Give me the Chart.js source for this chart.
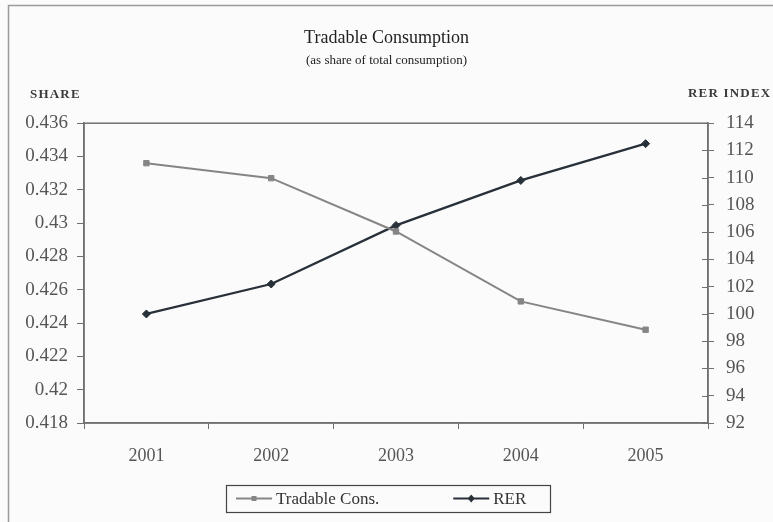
<!DOCTYPE html>
<html>
<head>
<meta charset="utf-8">
<script src="https://cdn.jsdelivr.net/npm/chart.js@4.4.1/dist/chart.umd.min.js"></script>
<style>
  html, body { margin: 0; padding: 0; background: #fbfbfb; }
  #wrap { width: 773px; height: 522px; position: relative; }
</style>
</head>
<body>
<div id="wrap"><canvas id="chart" width="773" height="522"></canvas></div>
<script>
// Data
const years = ["2001", "2002", "2003", "2004", "2005"];
const tradableShare = [0.4336, 0.4327, 0.4295, 0.4253, 0.4236];
const rerIndex = [100.0, 102.2, 106.5, 109.8, 112.5];
const shareTicks = [0.418, 0.42, 0.422, 0.424, 0.426, 0.428, 0.43, 0.432, 0.434, 0.436];
const rerTicks = [92, 94, 96, 98, 100, 102, 104, 106, 108, 110, 112, 114];
const seriesNames = ["Tradable Cons.", "RER"];

const SERIF = "'Liberation Serif', 'DejaVu Serif', serif";
const GREY_LINE = "#858585";
const DARK_LINE = "#283039";
const AXIS = "#707070";
const TEXT = "#555555";

function drawMarker(ctx, style, x, y, color) {
  ctx.fillStyle = color;
  if (style === "rect") {
    ctx.fillRect(x - 2.5, y - 2.5, 5, 5);
  } else {
    ctx.beginPath();
    ctx.moveTo(x, y - 4); ctx.lineTo(x + 3.5, y); ctx.lineTo(x, y + 4); ctx.lineTo(x - 3.5, y);
    ctx.closePath(); ctx.fill();
  }
}

// frame, axis captions, plot box, legend
const decorations = {
  id: "decorations",
  beforeDraw(chart) {
    const { ctx, width, height } = chart;
    ctx.save();
    ctx.fillStyle = "#fbfbfb";
    ctx.fillRect(0, 0, width, height);
    ctx.strokeStyle = "#9a9a9a";
    ctx.lineWidth = 1.5;
    ctx.beginPath();
    ctx.moveTo(8.5, height);
    ctx.lineTo(8.5, 5.5);
    ctx.lineTo(width, 5.5);
    ctx.stroke();
    ctx.restore();
  },
  afterDraw(chart) {
    const { ctx, chartArea: a } = chart;
    ctx.save();
    // plot box
    ctx.strokeStyle = AXIS;
    ctx.lineWidth = 1.5;
    ctx.strokeRect(a.left, a.top, a.right - a.left, a.bottom - a.top);
    // right axis ticks cross to the inside too
    const yr = chart.scales.yRight;
    ctx.beginPath();
    yr.ticks.forEach((t, i) => {
      const y = Math.round(yr.getPixelForTick(i)) + 0.5;
      ctx.moveTo(a.right - 6, y);
      ctx.lineTo(a.right, y);
    });
    ctx.lineWidth = 1;
    ctx.stroke();

    // axis captions
    ctx.fillStyle = "#3a3a3a";
    ctx.font = "bold 13px " + SERIF;
    ctx.letterSpacing = "1.2px";
    ctx.textBaseline = "middle";
    ctx.textAlign = "left";
    ctx.fillText("SHARE", 30, 95);
    ctx.fillText("RER INDEX", 688, 94);
    ctx.letterSpacing = "0px";

    // legend: box with line+marker swatches
    const boxL = 226, boxR = 550, boxT = 485, boxB = 512;
    const cy = (boxT + boxB) / 2;
    ctx.strokeStyle = "#444";
    ctx.lineWidth = 1.2;
    ctx.strokeRect(boxL + 0.5, boxT + 0.5, boxR - boxL, boxB - boxT);
    ctx.font = "17px " + SERIF;
    ctx.textAlign = "left";
    let x = boxL + 10;
    chart.data.datasets.forEach((ds, i) => {
      ctx.strokeStyle = ds.borderColor;
      ctx.lineWidth = 2;
      ctx.beginPath();
      ctx.moveTo(x, cy); ctx.lineTo(x + 36, cy);
      ctx.stroke();
      drawMarker(ctx, ds.pointStyle, x + 18, cy, ds.borderColor);
      ctx.fillStyle = "#333";
      ctx.fillText(seriesNames[i], x + 40, cy + 1);
      x += 40 + ctx.measureText(seriesNames[i]).width + 74;
    });
    ctx.restore();
  }
};

new Chart(document.getElementById("chart"), {
  type: "line",
  data: {
    labels: years,
    datasets: [
      {
        label: seriesNames[0],
        data: tradableShare,
        yAxisID: "yLeft",
        borderColor: GREY_LINE,
        backgroundColor: GREY_LINE,
        borderWidth: 2,
        pointStyle: "rect",
        pointRadius: 3.8,
        pointBorderWidth: 1,
        tension: 0
      },
      {
        label: seriesNames[1],
        data: rerIndex,
        yAxisID: "yRight",
        borderColor: DARK_LINE,
        backgroundColor: DARK_LINE,
        borderWidth: 2.3,
        pointStyle: "rectRot",
        pointRadius: 4,
        pointBorderWidth: 1,
        tension: 0
      }
    ]
  },
  options: {
    responsive: false,
    animation: false,
    layout: { padding: { left: 0, right: 0, top: 0, bottom: 44 } },
    plugins: {
      title: {
        display: true,
        text: "Tradable Consumption",
        color: "#222",
        font: { family: SERIF, size: 18, weight: "normal" },
        padding: { top: 27, bottom: 2 }
      },
      subtitle: {
        display: true,
        text: "(as share of total consumption)",
        color: "#222",
        font: { family: SERIF, size: 13 },
        padding: { top: 2, bottom: 55 }
      },
      legend: { display: false },
      tooltip: { enabled: false }
    },
    scales: {
      x: {
        offset: true,
        grid: { offset: true, drawOnChartArea: false, color: AXIS, tickLength: 6, tickColor: AXIS },
        border: { display: true, color: AXIS, width: 1.5 },
        ticks: { color: TEXT, font: { family: SERIF, size: 18 }, padding: 16 },
        afterFit(scale) { scale.height = 55; }
      },
      yLeft: {
        position: "left",
        min: shareTicks[0],
        max: shareTicks[shareTicks.length - 1],
        afterBuildTicks(scale) { scale.ticks = shareTicks.map(v => ({ value: v })); },
        grid: { drawOnChartArea: false, color: AXIS, tickLength: 7 },
        border: { display: true, color: AXIS, width: 1.5 },
        ticks: {
          color: TEXT,
          font: { family: SERIF, size: 19 },
          padding: 9,
          callback: v => String(Number(v.toFixed(3)))
        },
        afterFit(scale) { scale.width = 84; }
      },
      yRight: {
        position: "right",
        min: rerTicks[0],
        max: rerTicks[rerTicks.length - 1],
        afterBuildTicks(scale) { scale.ticks = rerTicks.map(v => ({ value: v })); },
        grid: { drawOnChartArea: false, color: AXIS, tickLength: 6 },
        border: { display: true, color: AXIS, width: 1.5 },
        ticks: { color: TEXT, font: { family: SERIF, size: 19 }, padding: 12 },
        afterFit(scale) { scale.width = 65; }
      }
    }
  },
  plugins: [decorations]
});
</script>
</body>
</html>
